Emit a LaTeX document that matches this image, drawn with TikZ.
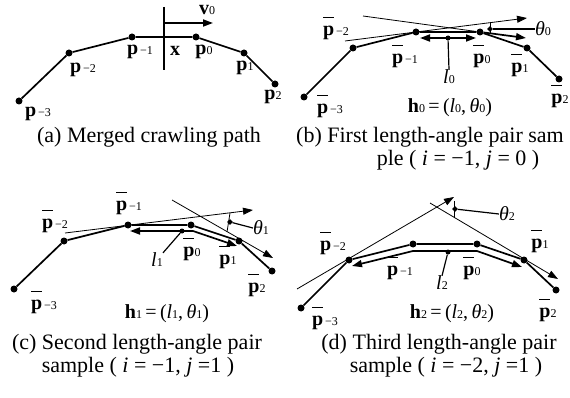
\documentclass[tikz,border=0pt]{standalone}
\usepackage{fontspec}
\setmainfont{Liberation Serif}
\usepackage{tikz}
\usetikzlibrary{arrows.meta,shapes.geometric}
\newcommand{\sbs}[1]{{\fontsize{12pt}{12pt}\selectfont #1}}
\newcommand{\pv}[1]{\textbf{p}\sbs{#1}}
\newcommand{\pbar}[1]{\rlap{\rule[0.86em]{0.55em}{0.065em}}\textbf{p}\sbs{#1}}

\begin{document}
\begin{tikzpicture}[
  x=1pt, y=-1pt,
  dot/.style={circle, fill=black, inner sep=0pt, minimum size=7pt},
  crawl/.style={line width=1.7pt, line join=round},
  ray/.style={line width=0.8pt, -{Triangle[length=10pt, width=7pt]}},
  vec/.style={line width=1.7pt, -{Triangle[length=10pt, width=7pt]}},
  lenarrow/.style={line width=1.7pt, line join=round, {Triangle[length=10pt, width=7pt]}-{Triangle[length=10pt, width=7pt]}},
  leader/.style={line width=1.2pt},
  tickdot/.style={diamond, fill=black, inner sep=0pt, minimum size=6pt},
  lbl/.style={font=\fontsize{20pt}{20pt}\selectfont, inner sep=0pt},
  captxt/.style={font=\fontsize{22pt}{23pt}\selectfont, inner sep=0pt, align=center}
]
\useasboundingbox (0,0) rectangle (570,398);

% (a) merged crawling path
\node[dot] (am3) at (19,101) {};
\node[dot] (am2) at (69,53) {};
\node[dot] (am1) at (132,37) {};
\node[dot] (a0) at (196,37) {};
\node[dot] (a1) at (244,53) {};
\node[dot] (a2) at (275,84) {};
\draw[crawl] (am3) -- (am2) -- (am1) -- (a0) -- (a1) -- (a2);
\coordinate (xtop) at (164,7);
\coordinate (xbot) at (164,70);
\coordinate (vtail) at (164,23);
\coordinate (vhead) at (213,23);
\draw[line width=1.3pt] (xtop) -- (xbot);
\draw[vec] (vtail) -- (vhead);
\node[lbl] (vlbl) at (207,10) {\textbf{v}\sbs{0}};
\node[lbl] (xlbl) at (175,51) {\textbf{x}};
\node[lbl] (am3l) at (38,114) {\pv{\,−3}};
\node[lbl] (am2l) at (83,70) {\pv{\,−2}};
\node[lbl] (am1l) at (140,52) {\pv{\,−1}};
\node[lbl] (a0l) at (204,52) {\pv{0}};
\node[lbl] (a1l) at (245,68) {\pv{1}};
\node[lbl] (a2l) at (273,97) {\pv{2}};
\node[captxt] (capa) at (149,137) {(a) Merged crawling path};

% (b) first sample
\node[dot] (bm3) at (304,97) {};
\node[dot] (bm2) at (353,48) {};
\node[dot] (bm1) at (416,32) {};
\node[dot] (b0) at (480,32) {};
\node[dot] (b1) at (527,48) {};
\node[dot] (b2) at (559,79) {};
\draw[crawl] (bm3) -- (bm2) -- (bm1) -- (b0) -- (b1) -- (b2);
\coordinate (bA1) at (345,41);
\coordinate (bA2) at (527,18);
\coordinate (bB1) at (363,16);
\coordinate (bB2) at (526,38);
\draw[ray] (bA1) -- (bA2);
\draw[line width=0.8pt] (bB1) -- (b0);
\draw[vec] (b0) -- (bB2);
\coordinate (bL1) at (420,38);
\coordinate (bL2) at (476,38);
\draw[lenarrow] (bL1) -- (bL2);
\node[dot, minimum size=5pt] (bmid) at (448,38) {};
\coordinate (bT1) at (490,23);
\coordinate (bT2) at (490,34);
\draw[line width=0.8pt] (bT1) -- (bT2);
\node[tickdot] (bang) at (490,29) {};
\node[lbl] (bth) at (543,29) {\textit{θ}\sbs{0}};
\draw[leader] (bang) -- (bth.west);
\node[lbl] (bl) at (449,77) {\textit{l}\sbs{0}};
\draw[leader] (bmid) -- (bl.north);
\node[lbl] (bm3l) at (330,106) {\pbar{\,−3}};
\node[lbl] (bm2l) at (336,28) {\pbar{\,−2}};
\node[lbl] (bm1l) at (405,56) {\pbar{\,−1}};
\node[lbl] (b0l) at (482,56) {\pbar{0}};
\node[lbl] (b1l) at (520,65) {\pbar{1}};
\node[lbl] (b2l) at (560,96) {\pbar{2}};
\node[lbl] (bh) at (450,108) {\textbf{h}\sbs{0}\,=\,(\textit{l}\sbs{0},\,\textit{θ}\sbs{0})};
\node[captxt, anchor=west] (capb1) at (296,137) {(b) First length-angle pair sam};
\node[captxt] (capb2) at (458,160) {ple ( \textit{i} = −1, \textit{j} = 0 )};

% (c) second sample
\node[dot] (cm3) at (14,289) {};
\node[dot] (cm2) at (64,241) {};
\node[dot] (cm1) at (128,225) {};
\node[dot] (c0) at (191,225) {};
\node[dot] (c1) at (239,241) {};
\node[dot] (c2) at (272,271) {};
\draw[crawl] (cm3) -- (cm2) -- (cm1) -- (c0) -- (c1) -- (c2);
\coordinate (cA1) at (65,233);
\coordinate (cA2) at (253,210);
\coordinate (cB1) at (172,200);
\coordinate (cB2) at (273,258);
\draw[ray] (cA1) -- (cA2);
\draw[ray] (cB1) -- (cB2);
\coordinate (cO1) at (130,231);
\coordinate (cO2) at (193,231);
\coordinate (cO3) at (237,246);
\draw[lenarrow] (cO1) -- (cO2) -- (cO3);
\node[dot, minimum size=5pt] (cmid) at (182,231) {};
\coordinate (cT1) at (230,213);
\coordinate (cT2) at (227,232);
\draw[line width=0.8pt] (cT1) -- (cT2);
\node[tickdot] (cang) at (230,222) {};
\node[lbl] (cth) at (261,228) {\textit{θ}\sbs{1}};
\draw[leader] (cang) -- (cth.west);
\node[lbl] (cl) at (157,260) {\textit{l}\sbs{1}};
\draw[leader] (cmid) -- (cl.north east);
\node[lbl] (cm3l) at (44,302) {\pbar{\,−3}};
\node[lbl] (cm2l) at (55,221) {\pbar{\,−2}};
\node[lbl] (cm1l) at (129,203) {\pbar{\,−1}};
\node[lbl] (c0l) at (192,249) {\pbar{0}};
\node[lbl] (c1l) at (228,257) {\pbar{1}};
\node[lbl] (c2l) at (257,285) {\pbar{2}};
\node[lbl] (ch) at (167,314) {\textbf{h}\sbs{1}\,=\,(\textit{l}\sbs{1},\,\textit{θ}\sbs{1})};
\node[captxt] (capc1) at (137,344) {(c) Second length-angle pair};
\node[captxt] (capc2) at (138,367) {sample ( \textit{i} = −1, \textit{j} =1 )};

% (d) third sample
\node[dot] (dm3) at (301,308) {};
\node[dot] (dm2) at (349,260) {};
\node[dot] (dm1) at (413,244) {};
\node[dot] (d0) at (477,244) {};
\node[dot] (d1) at (524,260) {};
\node[dot] (d2) at (556,290) {};
\draw[crawl] (dm3) -- (dm2) -- (dm1) -- (d0) -- (d1) -- (d2);
\coordinate (dA1) at (297,289);
\coordinate (dA2) at (454,197);
\coordinate (dB1) at (430,203);
\coordinate (dB2) at (558,279);
\draw[ray] (dA1) -- (dA2);
\draw[ray] (dB1) -- (dB2);
\coordinate (dO1) at (352,266);
\coordinate (dO2) at (413,251);
\coordinate (dO3) at (477,251);
\coordinate (dO4) at (522,267);
\draw[lenarrow] (dO1) -- (dO2) -- (dO3) -- (dO4);
\node[dot, minimum size=5pt] (dmid) at (448,252) {};
\coordinate (dT1) at (454,201);
\coordinate (dT2) at (454,217);
\draw[line width=0.8pt] (dT1) -- (dT2);
\node[tickdot] (dang) at (455,209) {};
\node[lbl] (dth) at (507,214) {\textit{θ}\sbs{2}};
\draw[leader] (dang) -- (dth.west);
\node[lbl] (dl) at (442,283) {\textit{l}\sbs{2}};
\draw[leader] (dmid) -- (dl.north);
\node[lbl] (dm3l) at (325,318) {\pbar{\,−3}};
\node[lbl] (dm2l) at (333,243) {\pbar{\,−2}};
\node[lbl] (dm1l) at (400,268) {\pbar{\,−1}};
\node[lbl] (d0l) at (472,268) {\pbar{0}};
\node[lbl] (d1l) at (540,241) {\pbar{1}};
\node[lbl] (d2l) at (548,310) {\pbar{2}};
\node[lbl] (dh) at (452,314) {\textbf{h}\sbs{2}\,=\,(\textit{l}\sbs{2},\,\textit{θ}\sbs{2})};
\node[captxt] (capd1) at (439,344) {(d) Third length-angle pair};
\node[captxt] (capd2) at (446,367) {sample ( \textit{i} = −2, \textit{j} =1 )};
\end{tikzpicture}
\end{document}
